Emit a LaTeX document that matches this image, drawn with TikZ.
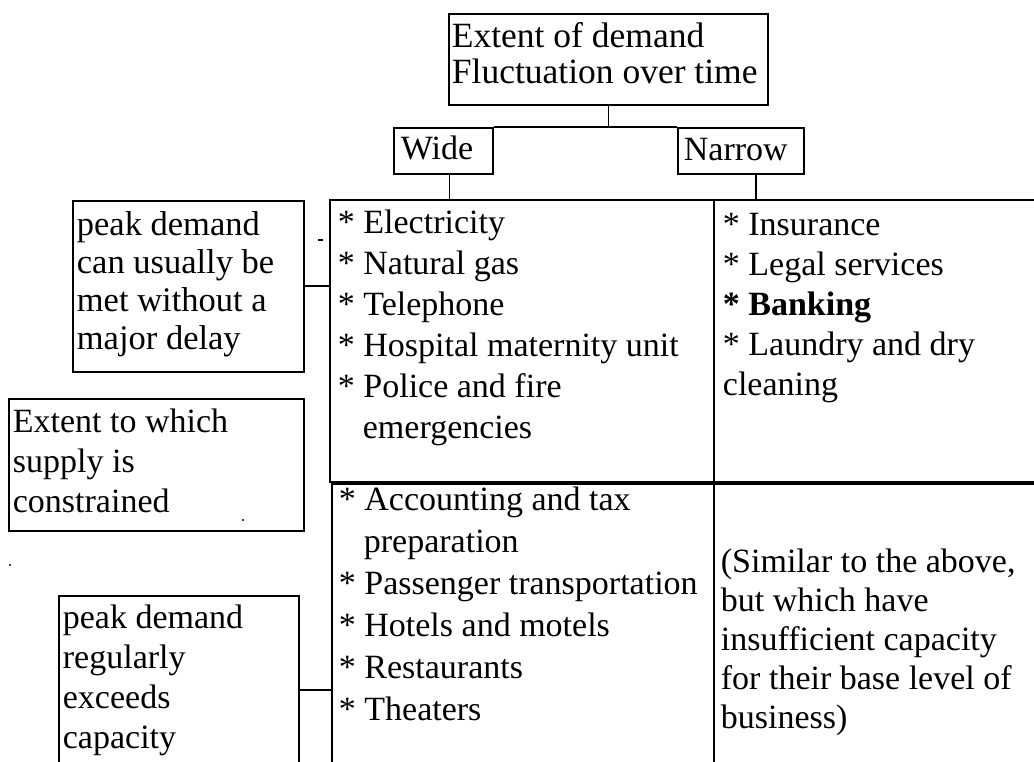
\documentclass[tikz,border=0pt]{standalone}
\usepackage{fontspec}
\setmainfont{Liberation Serif}
\newcommand\firststrut{\rule{0pt}{26pt}}
\begin{document}
\begin{tikzpicture}[x=1pt,y=-1pt,
  line width=1.8pt,
  boxnode/.style={draw, rectangle, inner sep=0pt, anchor=north west},
  txt/.style={anchor=north west, inner sep=0pt, align=left},
  pitchA/.style={font=\fontsize{34}{41}\selectfont},
  pitchB/.style={font=\fontsize{34}{40}\selectfont},
  pitchC/.style={font=\fontsize{34}{42}\selectfont},
  pitchD/.style={font=\fontsize{34}{39}\selectfont},
  pitchL/.style={font=\fontsize{34.5}{38}\selectfont},
  pitchT/.style={font=\fontsize{35.5}{36}\selectfont},
  conn/.style={line width=1.8pt}]
\useasboundingbox[fill=white] (0,0) rectangle (1034,762);

% boxes
\node[boxnode, minimum width=319pt, minimum height=91pt] (top) at (448,13) {};
\node[boxnode, minimum width=99pt, minimum height=46pt] (wide) at (393,127) {};
\node[boxnode, minimum width=126pt, minimum height=46pt] (narrow) at (677,127) {};
\node[boxnode, minimum width=384pt, minimum height=282pt] (c11) at (329,199) {};
\node[boxnode, minimum width=330pt, minimum height=282pt] (c12) at (713,199) {};
\node[boxnode, minimum width=382pt, minimum height=290pt] (c21) at (331,483) {};
\node[boxnode, minimum width=330pt, minimum height=290pt] (c22) at (713,483) {};
\node[boxnode, minimum width=231pt, minimum height=171pt] (l1) at (72,200) {};
\node[boxnode, minimum width=295pt, minimum height=132pt] (l2) at (8,398) {};
\node[boxnode, minimum width=240pt, minimum height=180pt] (l3) at (58,595) {};

% texts
\node[txt, pitchT] (ttop) at (451,21) {\firststrut Extent of demand\\Fluctuation over time};
\node[txt, pitchB] (twide) at (400,133) {\firststrut Wide};
\node[txt, pitchB] (tnarrow) at (683,134) {\firststrut Narrow};
\node[txt, pitchA] (t11) at (337,207) {\firststrut * Electricity\\
* Natural gas\\
* Telephone\\
* Hospital maternity unit\\
* Police and fire\\
\hspace*{25pt}emergencies};
\node[txt, pitchB] (t12) at (722,209) {\firststrut * Insurance\\
* Legal services\\
\textbf{* Banking}\\
* Laundry and dry\\
cleaning};
\node[txt, pitchC] (t21) at (338,484) {\firststrut * Accounting and tax\\
\hspace*{25pt}preparation\\
* Passenger transportation\\
* Hotels and motels\\
* Restaurants\\
* Theaters};
\node[txt, pitchD] (t22) at (720,546) {\firststrut (Similar to the above,\\
but which have\\
insufficient capacity\\
for their base level of\\
business)};
\node[txt, pitchL] (tl1) at (76,209) {\firststrut peak demand\\
can usually be\\
met without a\\
major delay};
\node[txt, pitchB] (tl2) at (12,406) {\firststrut Extent to which\\
supply is\\
constrained};
\node[txt, pitchB] (tl3) at (62,602) {\firststrut peak demand\\
regularly\\
exceeds\\
capacity};

% connectors
\coordinate (split) at (top.south |- wide.north);
\draw[conn] (top.south) -- (split);
\draw[conn] (wide.north east) -- (narrow.north west);
\draw[conn] ([xshift=6pt]wide.south) -- ([xshift=6pt]wide.south |- c11.north);
\draw[conn] ([xshift=15pt]narrow.south) -- ([xshift=15pt]narrow.south |- c12.north);
\draw[conn] (l1.east) -- (l1.east -| c11.west);
\coordinate (l3c) at ([yshift=-95pt]l3.north east);
\draw[conn] (l3c) -- (l3c -| c21.west);

% stray marks of the original
\draw[line width=2pt] (318,240) -- (323,240);
\fill (243,520) circle (1.2pt);
\fill (10,565) circle (1.2pt);
\end{tikzpicture}
\end{document}
